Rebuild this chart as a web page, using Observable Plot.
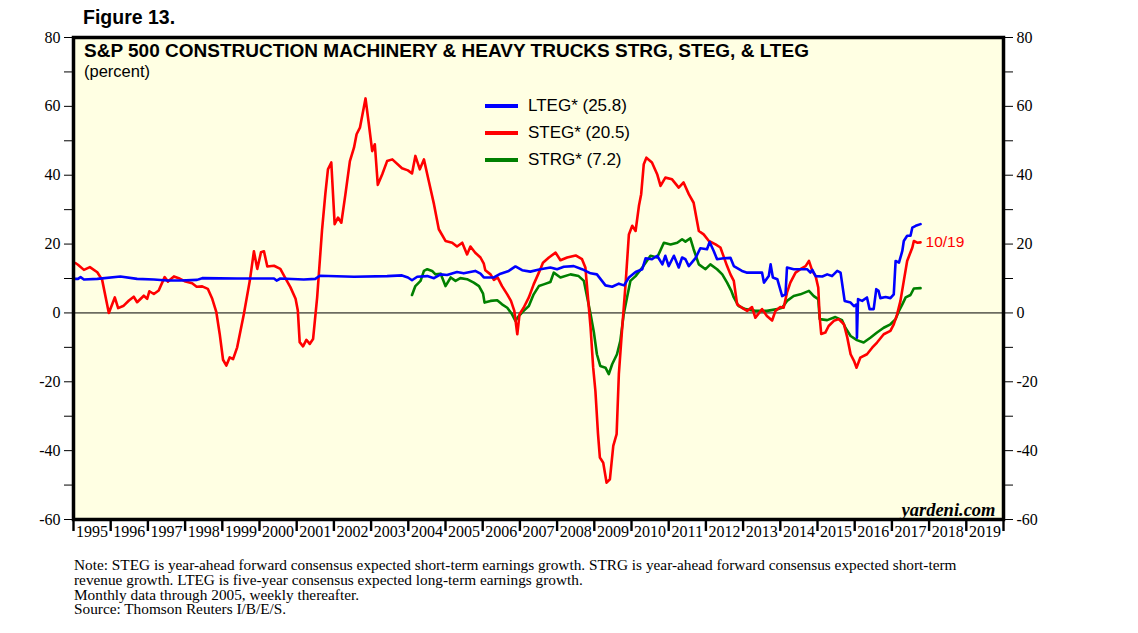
<!DOCTYPE html>
<html>
<head>
<meta charset="utf-8">
<script src="https://cdn.jsdelivr.net/npm/d3@7"></script>
<script src="https://cdn.jsdelivr.net/npm/@observablehq/plot@0.6"></script>
<style>
  body { margin: 0; background: #fff; }
  #wrap { position: relative; width: 1138px; height: 633px; overflow: hidden; }
  #wrap svg { position: absolute; left: 0; top: 0; }
  .ov { position: absolute; white-space: nowrap; color: #000; }
  .sans { font-family: "Liberation Sans", Arial, sans-serif; }
  .serif { font-family: "Liberation Serif", "Times New Roman", serif; }
  .leg { display: flex; align-items: center; height: 27px; font-size: 17px; }
  .sw { display: inline-block; width: 33px; height: 4px; margin-right: 10px; }
</style>
</head>
<body>
<div id="wrap"></div>
<script>
// ---- Data (decimal year, percent) ----
const yearTicks = d3.range(1995, 2021);
const yearLabels = d3.range(1995, 2020);
const yMajor = [-60, -40, -20, 0, 20, 40, 60, 80];
const yMinor = [-50, -30, -10, 10, 30, 50, 70];

const legendNames = ["LTEG* (25.8)", "STEG* (20.5)", "STRG* (7.2)"];
const seriesColors = ["#0000ff", "#ff0000", "#008000"];
const lastLabel = "10/19";

const lteg = [
  [1995.05,9.9],[1995.12,9.9],[1995.19,10.4],[1995.28,9.7],[1995.64,9.9],[1996.26,10.6],[1996.71,9.9],
  [1997.16,9.7],[1997.52,9.4],[1997.88,9.4],[1998.32,9.6],[1998.46,10.1],[1999.40,10.0],[2000.39,10.0],
  [2000.46,9.4],[2000.56,10.0],[2001.19,9.7],[2001.50,9.9],[2001.62,10.8],[2002.54,10.5],[2003.43,10.7],
  [2003.83,10.9],[2003.99,10.3],[2004.10,9.5],[2004.24,10.5],[2004.51,10.7],[2004.69,10.1],[2004.87,11.2],
  [2005.04,11.0],[2005.31,11.9],[2005.49,11.5],[2005.80,12.2],[2005.94,11.4],[2006.03,10.3],[2006.30,10.3],
  [2006.48,11.4],[2006.70,12.2],[2006.88,13.5],[2007.06,12.4],[2007.28,12.0],[2007.55,12.7],[2007.82,13.2],
  [2008.00,12.7],[2008.18,13.4],[2008.45,13.6],[2008.67,12.7],[2008.90,11.5],[2009.07,11.2],[2009.30,8.0],
  [2009.48,7.6],[2009.66,8.5],[2009.80,8.0],[2009.93,10.3],[2010.11,11.9],[2010.29,12.7],[2010.38,15.9],
  [2010.55,15.6],[2010.69,16.6],[2010.83,14.1],[2010.91,16.6],[2011.00,13.6],[2011.14,16.6],[2011.27,13.2],
  [2011.36,16.1],[2011.45,15.6],[2011.54,13.6],[2011.72,15.9],[2011.85,18.8],[2012.03,18.5],[2012.10,20.6],
  [2012.21,18.0],[2012.30,15.6],[2012.48,15.9],[2012.66,16.0],[2012.75,13.6],[2012.97,12.2],[2013.11,11.7],
  [2013.51,11.7],[2013.56,8.8],[2013.69,10.7],[2013.74,14.1],[2013.80,10.3],[2013.92,9.8],[2014.05,4.9],
  [2014.14,5.4],[2014.18,13.2],[2014.36,12.7],[2014.72,12.7],[2014.81,11.7],[2014.86,12.5],[2014.95,10.7],
  [2015.13,10.6],[2015.26,11.2],[2015.39,10.7],[2015.53,12.2],[2015.62,11.7],[2015.73,3.5],[2015.89,3.0],
  [2015.98,2.0],[2016.05,2.5],[2016.06,-7.2],[2016.09,4.0],[2016.20,3.5],[2016.33,4.5],[2016.40,1.1],
  [2016.51,1.1],[2016.58,6.9],[2016.64,6.4],[2016.69,4.3],[2016.83,4.6],[2016.96,4.3],[2017.05,5.4],
  [2017.10,15.1],[2017.19,14.6],[2017.28,18.0],[2017.32,20.9],[2017.41,22.4],[2017.50,22.4],[2017.55,24.8],
  [2017.64,25.3],[2017.77,25.8]
];

const steg = [
  [1995.05,14.5],[1995.12,14.0],[1995.28,12.5],[1995.44,13.3],[1995.64,11.8],[1995.77,9.6],[1995.95,0.0],
  [1996.11,4.5],[1996.20,1.4],[1996.35,2.1],[1996.49,3.6],[1996.62,4.7],[1996.71,3.1],[1996.89,5.0],
  [1996.98,4.1],[1997.04,6.3],[1997.16,5.5],[1997.29,6.5],[1997.45,10.4],[1997.54,9.1],[1997.70,10.6],
  [1997.83,10.1],[1998.01,9.1],[1998.19,8.6],[1998.31,7.6],[1998.46,7.7],[1998.61,7.0],[1998.73,4.1],
  [1998.84,0.2],[1998.93,-6.1],[1999.02,-13.6],[1999.11,-15.3],[1999.20,-12.9],[1999.29,-13.4],[1999.40,-10.0],
  [1999.58,-0.3],[1999.74,9.4],[1999.85,17.9],[1999.94,12.8],[2000.04,17.6],[2000.12,17.9],[2000.21,13.5],
  [2000.39,13.7],[2000.56,12.8],[2000.68,10.4],[2000.83,7.5],[2000.97,4.1],[2001.03,0.7],[2001.08,-8.5],
  [2001.17,-9.7],[2001.26,-7.8],[2001.35,-9.0],[2001.44,-7.6],[2001.55,4.5],[2001.68,23.9],[2001.77,34.6],
  [2001.84,41.7],[2001.93,43.7],[2002.02,25.8],[2002.11,27.7],[2002.20,26.2],[2002.31,34.5],[2002.43,44.1],
  [2002.54,48.0],[2002.61,51.9],[2002.70,53.8],[2002.85,62.3],[2002.94,54.8],[2003.03,47.0],[2003.10,49.0],
  [2003.18,37.2],[2003.30,40.3],[2003.43,44.1],[2003.57,44.6],[2003.83,42.0],[2003.99,41.4],[2004.10,40.5],
  [2004.19,45.6],[2004.31,41.7],[2004.42,44.6],[2004.55,38.3],[2004.69,31.6],[2004.82,24.3],[2005.00,20.9],
  [2005.18,20.4],[2005.31,19.3],[2005.45,20.4],[2005.58,17.0],[2005.67,19.3],[2005.80,17.5],[2005.94,16.1],
  [2006.03,14.3],[2006.07,12.4],[2006.21,11.2],[2006.30,9.6],[2006.40,10.3],[2006.52,7.8],[2006.66,5.4],
  [2006.76,3.5],[2006.85,0.6],[2006.93,-6.2],[2006.99,-0.4],[2007.10,1.5],[2007.24,4.5],[2007.37,8.3],
  [2007.51,11.7],[2007.62,14.6],[2007.78,16.1],[2007.96,17.5],[2008.09,15.3],[2008.27,16.1],[2008.50,16.7],
  [2008.67,15.6],[2008.76,13.2],[2008.83,4.5],[2008.90,-4.3],[2008.97,-15.9],[2009.03,-22.7],[2009.10,-35.2],
  [2009.15,-42.0],[2009.24,-43.5],[2009.33,-49.3],[2009.42,-48.3],[2009.51,-38.6],[2009.60,-35.2],[2009.66,-17.8],
  [2009.75,-4.3],[2009.84,8.3],[2009.93,22.8],[2010.02,25.3],[2010.11,23.8],[2010.20,31.1],[2010.26,34.5],
  [2010.33,43.2],[2010.40,45.1],[2010.55,43.7],[2010.69,40.3],[2010.78,36.9],[2010.91,39.3],[2011.09,38.8],
  [2011.27,36.4],[2011.40,37.9],[2011.54,34.5],[2011.67,32.0],[2011.81,23.8],[2011.94,22.8],[2012.08,20.9],
  [2012.26,19.9],[2012.39,19.0],[2012.57,13.6],[2012.66,11.2],[2012.75,9.3],[2012.84,2.5],[2012.97,1.5],
  [2013.11,0.6],[2013.24,1.7],[2013.33,-1.4],[2013.51,1.1],[2013.64,-0.9],[2013.78,-2.2],[2013.87,0.6],
  [2014.00,1.7],[2014.09,1.5],[2014.18,5.9],[2014.27,8.8],[2014.41,11.7],[2014.54,12.7],[2014.68,13.6],
  [2014.77,15.1],[2014.86,12.2],[2014.95,10.7],[2015.02,7.4],[2015.06,-1.4],[2015.10,-6.1],[2015.21,-5.7],
  [2015.30,-3.8],[2015.44,-2.3],[2015.57,-1.8],[2015.71,-3.3],[2015.80,-7.1],[2015.89,-12.0],[2015.98,-13.9],
  [2016.05,-15.9],[2016.15,-13.0],[2016.33,-12.0],[2016.47,-10.1],[2016.60,-8.6],[2016.78,-6.2],[2016.96,-5.2],
  [2017.05,-3.3],[2017.14,-0.4],[2017.23,3.5],[2017.32,9.3],[2017.41,15.1],[2017.55,19.0],[2017.59,20.9],
  [2017.68,20.4],[2017.77,20.5]
];

const strg = [
  [2004.10,5.2],[2004.19,7.8],[2004.33,9.3],[2004.42,12.2],[2004.51,12.7],[2004.64,12.2],[2004.73,11.2],
  [2004.87,11.4],[2005.00,7.8],[2005.14,10.3],[2005.27,9.3],[2005.40,10.1],[2005.58,9.8],[2005.76,8.8],
  [2005.90,7.8],[2006.01,5.6],[2006.05,3.0],[2006.21,3.5],[2006.39,3.7],[2006.52,2.5],[2006.66,1.5],
  [2006.79,-0.4],[2006.88,-2.3],[2006.97,-0.9],[2007.10,0.6],[2007.24,2.0],[2007.37,5.4],[2007.51,7.8],
  [2007.64,8.3],[2007.82,9.0],[2007.91,11.7],[2008.09,10.3],[2008.36,11.2],[2008.58,10.7],[2008.72,9.3],
  [2008.81,4.5],[2008.90,-0.4],[2008.99,-5.7],[2009.07,-12.0],[2009.16,-15.4],[2009.30,-15.9],[2009.39,-17.8],
  [2009.48,-14.9],[2009.61,-12.0],[2009.70,-8.1],[2009.79,-0.4],[2009.88,4.5],[2009.97,9.3],[2010.11,10.7],
  [2010.29,13.2],[2010.51,16.6],[2010.69,16.1],[2010.87,20.4],[2011.05,19.9],[2011.23,20.4],[2011.36,21.4],
  [2011.45,20.7],[2011.58,21.7],[2011.67,18.5],[2011.81,14.1],[2011.99,12.7],[2012.12,14.1],[2012.30,12.7],
  [2012.44,11.2],[2012.57,8.8],[2012.68,6.5],[2012.75,4.5],[2012.88,2.0],[2013.06,1.1],[2013.33,0.6],
  [2013.64,0.6],[2013.92,1.1],[2014.05,1.5],[2014.18,3.5],[2014.36,4.9],[2014.54,5.4],[2014.77,6.4],
  [2014.90,4.9],[2015.02,4.0],[2015.06,-1.8],[2015.26,-2.1],[2015.48,-1.2],[2015.66,-2.1],[2015.75,-4.3],
  [2015.89,-6.7],[2016.06,-7.9],[2016.24,-8.6],[2016.42,-7.2],[2016.60,-5.7],[2016.78,-4.3],[2016.96,-3.3],
  [2017.10,-1.8],[2017.19,0.6],[2017.28,2.5],[2017.37,4.5],[2017.50,5.2],[2017.59,7.1],[2017.77,7.2]
];

// ---- Build ----
const toObj = arr => arr.map(([x, y]) => ({x, y}));
const series = [lteg, steg, strg].map(toObj);
const bg = "#ffffe3";
const blank = () => "";

const chart = Plot.plot({
  width: 1138,
  height: 633,
  marginLeft: 73,
  marginRight: 135,
  marginTop: 37,
  marginBottom: 114,
  style: {fontFamily: "'Liberation Serif', 'Times New Roman', serif", fontSize: "16px", background: "transparent", color: "#000"},
  x: {domain: [1995, 2020], axis: null},
  y: {domain: [-60, 80], axis: null},
  marks: [
    Plot.frame({fill: bg, stroke: null}),
    Plot.ruleY([0], {stroke: "#000", strokeWidth: 1}),
    Plot.line(series[2], {x: "x", y: "y", stroke: seriesColors[2], strokeWidth: 2.6}),
    Plot.line(series[1], {x: "x", y: "y", stroke: seriesColors[1], strokeWidth: 2.6}),
    Plot.line(series[0], {x: "x", y: "y", stroke: seriesColors[0], strokeWidth: 2.6}),
    Plot.text([steg[steg.length - 1]], {x: d => d[0], y: d => d[1], text: () => lastLabel, dx: 5, textAnchor: "start",
      fill: seriesColors[1], fontFamily: "'Liberation Sans', Arial, sans-serif", fontSize: 15.5}),
    Plot.text(["yardeni.com"], {frameAnchor: "bottom-right", dx: -8, dy: -4, fontStyle: "italic", fontWeight: "bold", fontSize: 18.5}),
    // left axis
    Plot.axisY({anchor: "left", ticks: yMajor, tickSize: 9, tickPadding: 4, tickFormat: d => String(d), label: null}),
    Plot.axisY({anchor: "left", ticks: yMinor, tickSize: 9, tickFormat: blank, label: null}),
    // right axis
    Plot.axisY({anchor: "right", ticks: yMajor, tickSize: 9, tickPadding: 4, tickFormat: d => String(d), label: null}),
    Plot.axisY({anchor: "right", ticks: yMinor, tickSize: 9, tickFormat: blank, label: null}),
    // x axis: year boundary ticks + centered labels
    Plot.axisX({anchor: "bottom", ticks: yearTicks, tickSize: 12, strokeWidth: 2.4, tickFormat: blank, label: null}),
    Plot.axisX({anchor: "bottom", ticks: yearLabels.map(y => y + 0.5), tickSize: 0, tickPadding: 6,
      tickFormat: d => String(Math.floor(d)), label: null, fontSize: 16}),
    Plot.frame({stroke: "#000", strokeWidth: 3.5})
  ]
});

const wrap = document.getElementById("wrap");
wrap.appendChild(chart);

function ov(html, css, cls) {
  const d = document.createElement("div");
  d.className = "ov " + cls;
  d.style.cssText = css;
  d.innerHTML = html;
  wrap.appendChild(d);
  return d;
}
ov("Figure 13.", "left:83px;top:6px;font-size:19.5px;font-weight:bold;", "sans");
ov("S&amp;P 500 CONSTRUCTION MACHINERY &amp; HEAVY TRUCKS STRG, STEG, &amp; LTEG", "left:84px;top:40px;font-size:19px;font-weight:bold;", "sans");
ov("(percent)", "left:84px;top:62px;font-size:16.5px;", "sans");

const legHtml = legendNames.map((n, i) =>
  `<div class="leg"><span class="sw" style="background:${seriesColors[i]}"></span>${n}</div>`).join("");
ov(legHtml, "left:485px;top:92px;", "sans");

ov("Note: STEG is year-ahead forward consensus expected short-term earnings growth. STRG is year-ahead forward consensus expected short-term<br>revenue growth. LTEG is five-year consensus expected long-term earnings growth.<br>Monthly data through 2005, weekly thereafter.<br>Source: Thomson Reuters I/B/E/S.",
   "left:74px;top:558px;font-size:15.3px;line-height:14.8px;", "serif");
</script>
</body>
</html>
